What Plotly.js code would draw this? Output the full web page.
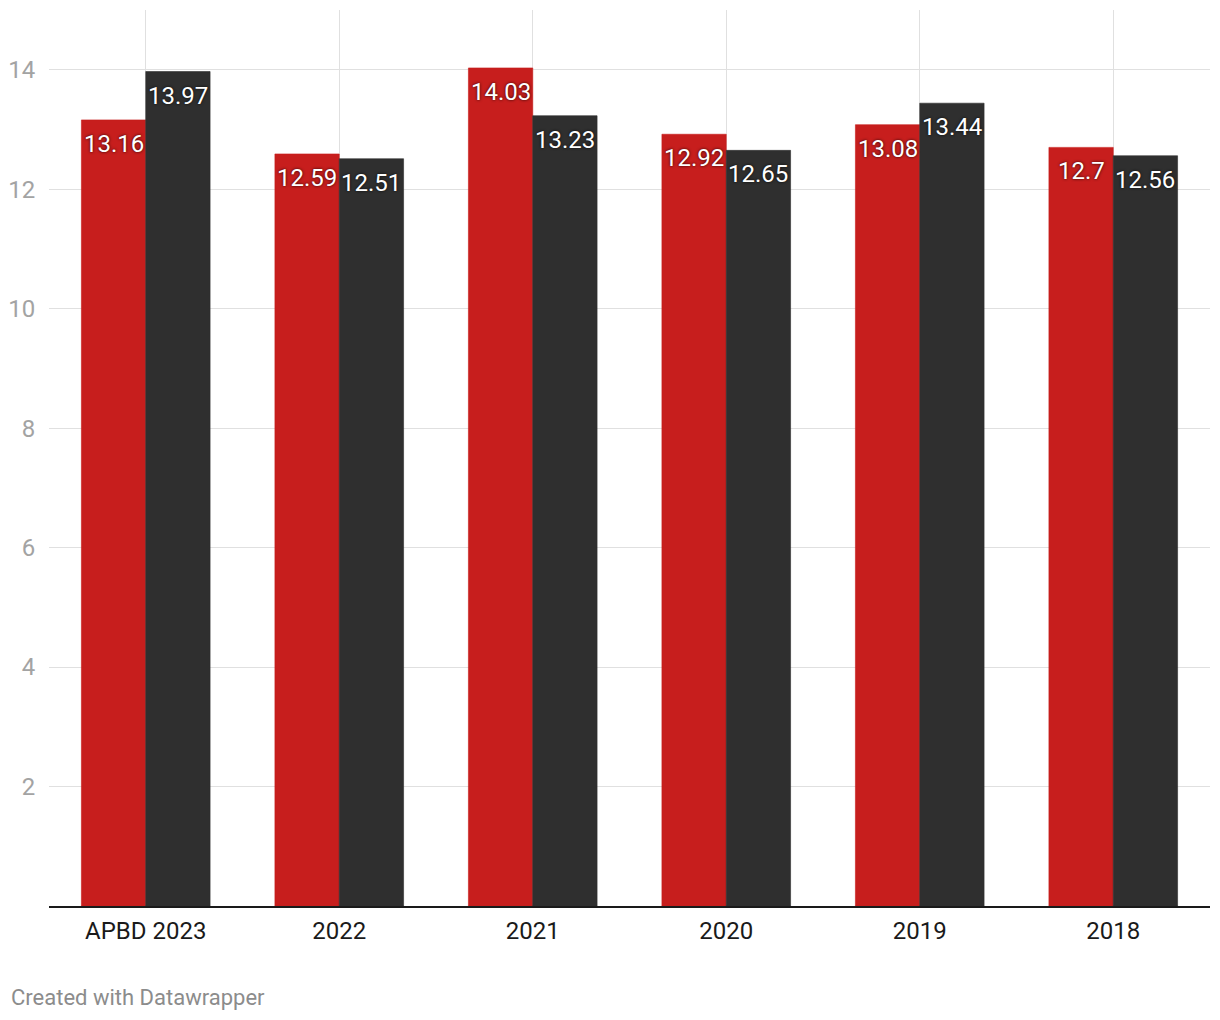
<!DOCTYPE html>
<html>
<head>
<meta charset="utf-8">
<script src="https://cdn.plot.ly/plotly-3.0.1.min.js"></script>
<style>
  html, body { margin: 0; padding: 0; background: #fff; }
  #chart { width: 1220px; height: 1020px; }
  .barlabel text { text-shadow: 0px 0px 3px rgba(0,0,0,0.85); }
</style>
</head>
<body>
<div id="chart"></div>
<script>
const categories = ["APBD 2023", "2022", "2021", "2020", "2019", "2018"];
const seriesRed = [13.16, 12.59, 14.03, 12.92, 13.08, 12.7];
const seriesDark = [13.97, 12.51, 13.23, 12.65, 13.44, 12.56];
const yTickVals = [2, 4, 6, 8, 10, 12, 14];

const W = 1220, H = 1020;
const margin = { l: 49, r: 10, t: 10, b: 114 };
const bargap = 0.335;
const plotW = W - margin.l - margin.r;
const barPx = plotW / categories.length * (1 - bargap) / 2;

function barTrace(values, color) {
  return {
    type: "bar",
    x: categories,
    y: values,
    marker: { color: color, line: { width: 0.6, color: color } },
    hoverinfo: "none"
  };
}

const data = [barTrace(seriesRed, "#c71e1d"), barTrace(seriesDark, "#2f2f2f")];

const labelFont = { family: "Roboto, sans-serif", size: 24, color: "#ffffff" };
const annotations = [];
[[seriesRed, -1], [seriesDark, 1]].forEach(([vals, side]) => {
  vals.forEach((v, i) => {
    annotations.push({
      x: i,
      y: v,
      xref: "x",
      yref: "y",
      text: String(v),
      showarrow: false,
      xanchor: "center",
      yanchor: "middle",
      xshift: side * barPx / 2,
      yshift: -24,
      font: labelFont
    });
  });
});
annotations.push({
  text: "Created with Datawrapper",
  xref: "paper",
  yref: "paper",
  x: -40 / plotW,
  y: -91 / (H - margin.t - margin.b),
  xanchor: "left",
  yanchor: "middle",
  showarrow: false,
  font: { family: "Roboto, sans-serif", size: 22, color: "#8c8c8c" }
});

const layout = {
  width: W,
  height: H,
  margin: margin,
  paper_bgcolor: "#ffffff",
  plot_bgcolor: "#ffffff",
  barmode: "group",
  bargap: bargap,
  bargroupgap: 0,
  showlegend: false,
  font: { family: "Roboto, sans-serif" },
  xaxis: {
    type: "category",
    categoryorder: "array",
    categoryarray: categories,
    range: [-0.5, categories.length - 0.5],
    showgrid: true,
    gridcolor: "#e0e0e0",
    gridwidth: 1,
    showline: true,
    linecolor: "#1a1a1a",
    linewidth: 1.5,
    ticks: "outside",
    ticklen: 3,
    tickcolor: "rgba(0,0,0,0)",
    tickfont: { family: "Roboto, sans-serif", size: 24, color: "#1a1a1a" },
    zeroline: false,
    fixedrange: true
  },
  yaxis: {
    range: [0, 15],
    tickvals: yTickVals,
    ticktext: yTickVals.map(String),
    showgrid: true,
    gridcolor: "#e0e0e0",
    gridwidth: 1,
    zeroline: false,
    showline: false,
    ticks: "outside",
    ticklen: 8,
    tickcolor: "rgba(0,0,0,0)",
    tickfont: { family: "Roboto, sans-serif", size: 24, color: "#a3a3a3" },
    fixedrange: true
  },
  annotations: annotations
};

Plotly.newPlot("chart", data, layout, { displayModeBar: false, staticPlot: true }).then(() => {
  const nodes = document.querySelectorAll("#chart .annotation");
  nodes.forEach((n, idx) => {
    if (idx < seriesRed.length + seriesDark.length) {
      n.classList.add("barlabel");
    }
  });
});
</script>
</body>
</html>
